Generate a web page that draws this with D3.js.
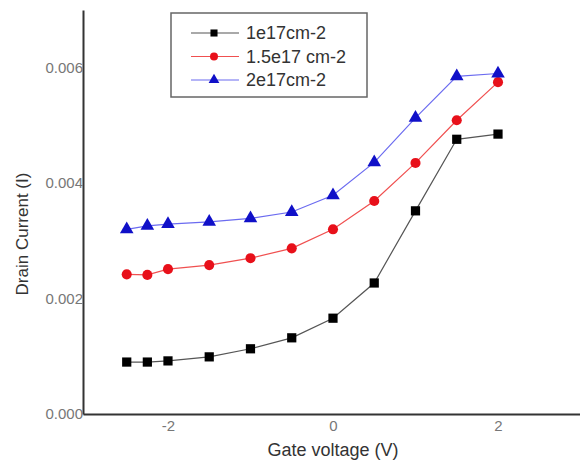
<!DOCTYPE html>
<html>
<head>
<meta charset="utf-8">
<script src="https://cdn.jsdelivr.net/npm/d3@7"></script>
<style>
  body { margin: 0; background: #fff; }
  text { font-family: "Liberation Sans", Arial, sans-serif; }
</style>
</head>
<body>
<div class="svg-container"></div>
<script>
const gateVoltage = [-2.5, -2.25, -2, -1.5, -1, -0.5, 0, 0.5, 1, 1.5, 2];
const current1e17 = [0.00090, 0.00090, 0.00092, 0.00099, 0.00113, 0.00132, 0.00166, 0.00227, 0.00352, 0.00476, 0.00485];
const current15e17 = [0.00242, 0.00241, 0.00251, 0.00258, 0.00270, 0.00287, 0.00320, 0.00369, 0.00435, 0.00509, 0.00575];
const current2e17 = [0.00320, 0.00326, 0.00329, 0.00333, 0.00339, 0.00350, 0.00379, 0.00436, 0.00513, 0.00585, 0.00590];
const seriesNames = ['1e17cm-2', '1.5e17 cm-2', '2e17cm-2'];
const xTicks = [-2, 0, 2];
const yTicks = [0, 0.002, 0.004, 0.006];

const width = 580;
const height = 461;
const margin = { top: 10, right: 0, bottom: 47, left: 83 };

const series = [
  { name: seriesNames[0], values: current1e17, line: '#555', fill: '#000', shape: 'square' },
  { name: seriesNames[1], values: current15e17, line: '#f05050', fill: '#e8101a', shape: 'circle' },
  { name: seriesNames[2], values: current2e17, line: '#6b6bf0', fill: '#1010c8', shape: 'triangle' }
];

const x = d3.scaleLinear().domain([-3.03, 3]).range([margin.left, width - margin.right + 0.5]);
const y = d3.scaleLinear().domain([0, 0.007]).range([height - margin.bottom, margin.top]);

const svg = d3.select('.svg-container')
  .append('svg')
  .attr('width', width)
  .attr('height', height);

// axes, no tick marks
const xAxis = svg.append('g')
  .attr('transform', `translate(0,${height - margin.bottom})`)
  .call(d3.axisBottom(x).tickValues(xTicks).tickSize(0).tickPadding(6).tickFormat((d) => String(d)));
const yAxis = svg.append('g')
  .attr('transform', `translate(${margin.left},0)`)
  .call(d3.axisLeft(y).tickValues(yTicks).tickSize(0).tickPadding(0).tickFormat(d3.format('.3f')));

[xAxis, yAxis].forEach((g) => {
  g.select('.domain').attr('stroke', '#333').attr('stroke-width', 2);
  g.selectAll('text')
    .style('font-family', '"Liberation Sans", Arial, sans-serif')
    .style('font-size', '15px')
    .attr('fill', '#777');
});

function symbolFor(shape) {
  if (shape === 'square') return d3.symbol().type(d3.symbolSquare).size(85);
  if (shape === 'circle') return d3.symbol().type(d3.symbolCircle).size(80);
  return d3.symbol().type(d3.symbolTriangle).size(80);
}

const line = d3.line()
  .x((d, i) => x(gateVoltage[i]))
  .y((d) => y(d));

series.forEach((s) => {
  svg.append('path')
    .datum(s.values)
    .attr('fill', 'none')
    .attr('stroke', s.line)
    .attr('stroke-width', 1.2)
    .attr('d', line);

  svg.append('g')
    .selectAll('path')
    .data(s.values)
    .enter()
    .append('path')
    .attr('d', symbolFor(s.shape))
    .attr('fill', s.fill)
    .attr('transform', (d, i) => `translate(${x(gateVoltage[i])},${y(d)})`);
});

// legend
const legend = svg.append('g').attr('transform', 'translate(171,13)');
legend.append('rect')
  .attr('width', 196)
  .attr('height', 84)
  .attr('fill', '#fff')
  .attr('stroke', '#666')
  .attr('stroke-width', 1.5);

series.forEach((s, i) => {
  const row = legend.append('g').attr('transform', `translate(0,${20 + i * 23.5})`);
  row.append('line')
    .attr('x1', 20).attr('x2', 68)
    .attr('stroke', s.line).attr('stroke-width', 1.2);
  row.append('path')
    .attr('d', symbolFor(s.shape).size(50)())
    .attr('fill', s.fill)
    .attr('transform', 'translate(43,0)');
  row.append('text')
    .attr('x', 75)
    .attr('dy', '0.36em')
    .attr('fill', '#333')
    .style('font-size', '18px')
    .text(s.name);
});

// axis titles
svg.append('text')
  .attr('x', x(0))
  .attr('y', 456)
  .attr('text-anchor', 'middle')
  .attr('fill', '#333')
  .style('font-size', '18px')
  .text('Gate voltage (V)');

svg.append('text')
  .attr('transform', 'translate(28,234) rotate(-90)')
  .attr('text-anchor', 'middle')
  .attr('fill', '#333')
  .style('font-size', '17px')
  .text('Drain Current (I)');
</script>
</body>
</html>
